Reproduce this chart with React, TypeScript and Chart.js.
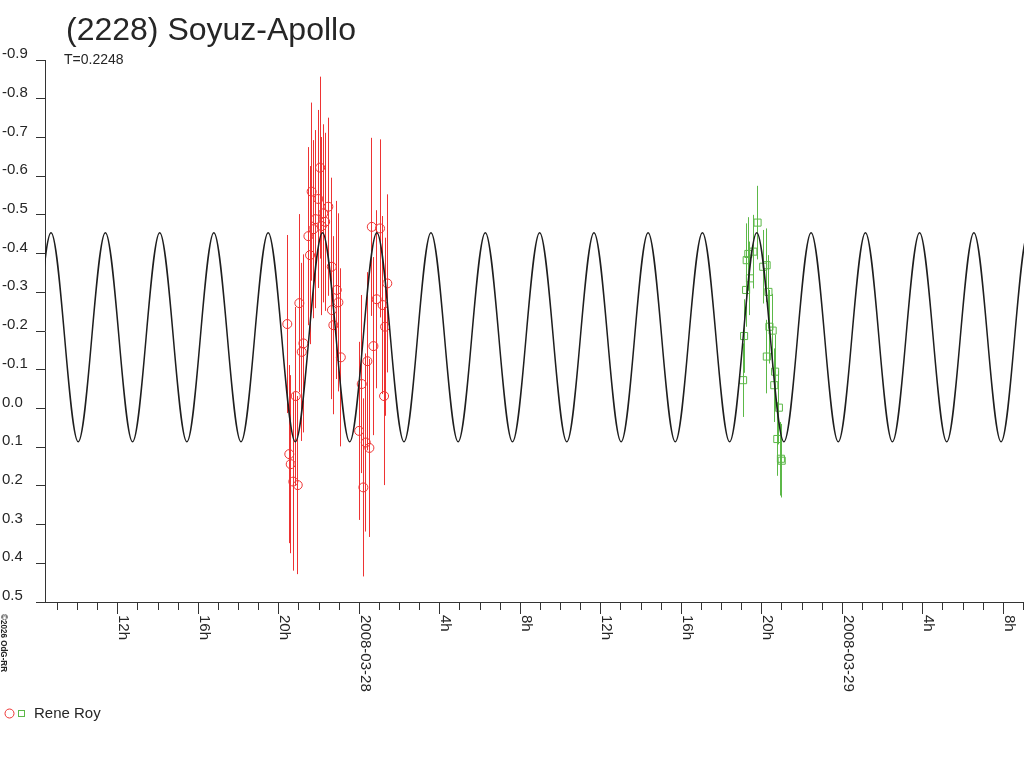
import React, { useEffect, useRef } from "react";
import { Chart, registerables } from "chart.js";

Chart.register(...registerables);

const FONT = "'Liberation Sans', Arial, sans-serif";
const AXIS = "#333333";
const TEXT = "#262626";
const RED = "#ee3333";
const GREEN = "#5cb848";

const TITLE = "(2228) Soyuz-Apollo";
const PERIOD_LABEL = "T=0.2248";
const OBSERVER = "Rene Roy";
const COPYRIGHT = "©2026 OdG-RR";

// x values are hours since 2008-03-27 00:00 UT
const X_MIN = 8.38;
const X_MAX = 57.03;
const Y_MIN = -0.9;
const Y_MAX = 0.5;

const xMajorHours = [12, 16, 20, 24, 28, 32, 36, 40, 44, 48, 52, 56];
const xMajorLabels = [
  "12h", "16h", "20h", "2008-03-28", "4h", "8h",
  "12h", "16h", "20h", "2008-03-29", "4h", "8h",
];

// maxima / minima of the fitted curve
const curveHours = [
  5.98, 7.33, 8.68, 10.03, 11.38, 12.73, 14.08, 15.43, 16.77, 18.12,
  19.47, 20.82, 22.17, 23.52, 24.87, 26.22, 27.56, 28.91, 30.26, 31.61,
  32.96, 34.31, 35.66, 37.01, 38.35, 39.7, 41.05, 42.4, 43.75, 45.1,
  46.45, 47.8, 49.15, 50.49, 51.84, 53.19, 54.54, 55.89, 57.24, 58.59,
];
const curveMag = [
  -0.454, 0.086, -0.454, 0.086, -0.454, 0.086, -0.454, 0.086, -0.454, 0.086,
  -0.454, 0.086, -0.454, 0.086, -0.454, 0.086, -0.454, 0.086, -0.454, 0.086,
  -0.454, 0.086, -0.454, 0.086, -0.454, 0.086, -0.454, 0.086, -0.454, 0.086,
  -0.454, 0.086, -0.454, 0.086, -0.454, 0.086, -0.454, 0.086, -0.454, 0.086,
];

// night 1 (circles)
const redHours = [
  20.42, 20.52, 20.59, 20.72, 20.84, 20.94, 21.02, 21.14, 21.22, 21.47,
  21.55, 21.63, 21.72, 21.82, 21.96, 22.05, 22.13, 22.21, 22.3, 22.46,
  22.63, 22.64, 22.71, 22.88, 22.96, 23.08, 23.99, 24.12, 24.2, 24.32,
  24.4, 24.5, 24.62, 24.7, 24.86, 25.03, 25.16, 25.23, 25.28, 25.39,
];
const redMag = [
  -0.218, 0.118, 0.144, 0.189, -0.032, 0.198, -0.272, -0.146, -0.168, -0.445,
  -0.396, -0.56, -0.463, -0.489, -0.541, -0.622, -0.471, -0.504, -0.482, -0.521,
  -0.366, -0.254, -0.215, -0.306, -0.274, -0.132, 0.058, -0.063, 0.204, 0.088,
  -0.122, 0.102, -0.469, -0.161, -0.282, -0.465, -0.267, -0.032, -0.211, -0.323,
];
const redErr = [
  0.23, 0.23, 0.23, 0.23, 0.23, 0.23, 0.23, 0.23, 0.23, 0.23,
  0.23, 0.23, 0.23, 0.23, 0.23, 0.235, 0.23, 0.23, 0.23, 0.23,
  0.23, 0.23, 0.23, 0.23, 0.23, 0.23, 0.23, 0.23, 0.23, 0.23,
  0.23, 0.23, 0.23, 0.23, 0.23, 0.23, 0.23, 0.23, 0.23, 0.23,
];

// night 2 (squares)
const greenHours = [
  43.07, 43.12, 43.22, 43.25, 43.33, 43.41, 43.58, 43.79, 44.07, 44.24,
  44.25, 44.33, 44.38, 44.54, 44.62, 44.66, 44.77, 44.85, 44.95, 44.99,
];
const greenMag = [
  -0.073, -0.187, -0.306, -0.383, -0.399, -0.336, -0.405, -0.48, -0.366, -0.37,
  -0.134, -0.301, -0.211, -0.201, -0.06, -0.095, 0.079, -0.002, 0.13, 0.135,
];
const greenErr = [
  0.095, 0.095, 0.095, 0.095, 0.095, 0.095, 0.095, 0.095, 0.095, 0.095,
  0.095, 0.095, 0.095, 0.095, 0.095, 0.095, 0.095, 0.095, 0.095, 0.095,
];

const toPoints = (xs: number[], ys: number[]) =>
  xs.map((x, i) => ({ x, y: ys[i] }));

// same rounding chart.js uses for 1px lines
const crisp = (p: number) => Math.round(p - 0.5) + 0.5;

const errorBars = {
  id: "errorBars",
  beforeDatasetsDraw(chart: any) {
    const { ctx, chartArea, scales } = chart;
    const sets = [
      { xs: redHours, ys: redMag, es: redErr, color: RED },
      { xs: greenHours, ys: greenMag, es: greenErr, color: GREEN },
    ];
    ctx.save();
    ctx.beginPath();
    ctx.rect(chartArea.left, chartArea.top, chartArea.right - chartArea.left, chartArea.bottom - chartArea.top);
    ctx.clip();
    ctx.lineWidth = 1;
    sets.forEach((s) => {
      ctx.strokeStyle = s.color;
      ctx.beginPath();
      s.xs.forEach((h, i) => {
        const px = crisp(scales.x.getPixelForValue(h));
        ctx.moveTo(px, scales.y.getPixelForValue(s.ys[i] - s.es[i]));
        ctx.lineTo(px, scales.y.getPixelForValue(s.ys[i] + s.es[i]));
      });
      ctx.stroke();
    });
    ctx.restore();
  },
};

const decorations = {
  id: "decorations",
  afterDraw(chart: any) {
    const { ctx, scales } = chart;
    const xs = scales.x;
    const axisY = Math.round(xs.top);
    ctx.save();

    // title + period
    ctx.fillStyle = TEXT;
    ctx.textBaseline = "alphabetic";
    ctx.textAlign = "left";
    ctx.font = `32px ${FONT}`;
    ctx.fillText(TITLE, 66, 40);
    ctx.font = `14px ${FONT}`;
    ctx.fillText(PERIOD_LABEL, 64, 64);

    // major ticks and rotated labels
    ctx.strokeStyle = AXIS;
    ctx.lineWidth = 1;
    ctx.font = `15px ${FONT}`;
    xMajorHours.forEach((h, i) => {
      const px = crisp(xs.getPixelForValue(h));
      ctx.beginPath();
      ctx.moveTo(px, axisY);
      ctx.lineTo(px, axisY + 12);
      ctx.stroke();
      ctx.save();
      ctx.translate(px + 1, axisY + 13);
      ctx.rotate(Math.PI / 2);
      ctx.fillText(xMajorLabels[i], 0, 0);
      ctx.restore();
    });

    // copyright, vertical
    ctx.save();
    ctx.translate(1, 614);
    ctx.rotate(Math.PI / 2);
    ctx.font = `bold 9px ${FONT}`;
    const w = ctx.measureText(COPYRIGHT).width;
    ctx.scale(58 / w, 1);
    ctx.fillText(COPYRIGHT, 0, 0);
    ctx.restore();

    // legend
    ctx.strokeStyle = RED;
    ctx.beginPath();
    ctx.arc(9.5, 713.5, 4.5, 0, Math.PI * 2);
    ctx.stroke();
    ctx.strokeStyle = GREEN;
    ctx.strokeRect(18.5, 710.5, 6, 6);
    ctx.fillStyle = TEXT;
    ctx.font = `15px ${FONT}`;
    ctx.fillText(OBSERVER, 34, 718);
    ctx.restore();
  },
};

export default function App() {
  const canvasRef = useRef<HTMLCanvasElement>(null);

  useEffect(() => {
    if (!canvasRef.current) return;
    const chart = new Chart(canvasRef.current, {
      type: "scatter",
      data: {
        datasets: [
          {
            label: "fit",
            data: toPoints(curveHours, curveMag),
            showLine: true,
            borderColor: "#1e1e1e",
            borderWidth: 1.5,
            pointRadius: 0,
            cubicInterpolationMode: "monotone",
          },
          {
            label: OBSERVER,
            data: toPoints(redHours, redMag),
            pointStyle: "circle",
            pointRadius: 4.5,
            borderWidth: 1,
            borderColor: RED,
            backgroundColor: "rgba(0,0,0,0)",
          },
          {
            label: OBSERVER + " 2",
            data: toPoints(greenHours, greenMag),
            pointStyle: "rect",
            pointRadius: 5,
            borderWidth: 1,
            borderColor: GREEN,
            backgroundColor: "rgba(0,0,0,0)",
          },
        ],
      } as any,
      options: {
        animation: false,
        responsive: true,
        maintainAspectRatio: false,
        events: [],
        layout: { autoPadding: false, padding: { top: 60, left: 2, right: 0, bottom: 0 } },
        plugins: { legend: { display: false }, tooltip: { enabled: false } },
        scales: {
          x: {
            type: "linear",
            position: "bottom",
            min: X_MIN,
            max: X_MAX,
            afterFit: (s: any) => {
              s.height = 166;
            },
            border: { display: true, color: AXIS, width: 1 },
            grid: { display: true, drawOnChartArea: false, drawTicks: true, tickLength: 8, color: AXIS },
            ticks: { display: false, stepSize: 1, autoSkip: false, includeBounds: false },
          },
          y: {
            type: "linear",
            position: "left",
            reverse: true,
            min: Y_MIN,
            max: Y_MAX,
            afterFit: (s: any) => {
              s.width = 43;
            },
            border: { display: true, color: AXIS, width: 1 },
            grid: { display: true, drawOnChartArea: false, drawTicks: true, tickLength: 9, color: AXIS },
            ticks: {
              stepSize: 0.1,
              crossAlign: "far",
              padding: 4,
              labelOffset: -6,
              color: TEXT,
              font: { family: FONT, size: 15 },
              callback: (v: any) => {
                const n = Number(v);
                return Math.abs(n) < 1e-9 ? "0.0" : n.toFixed(1);
              },
            },
          },
        },
      } as any,
      plugins: [errorBars, decorations],
    });
    return () => chart.destroy();
  }, []);

  return (
    <div style={{ position: "fixed", left: 0, top: 0, width: 1024, height: 768, background: "#fff" }}>
      <canvas ref={canvasRef} />
    </div>
  );
}
